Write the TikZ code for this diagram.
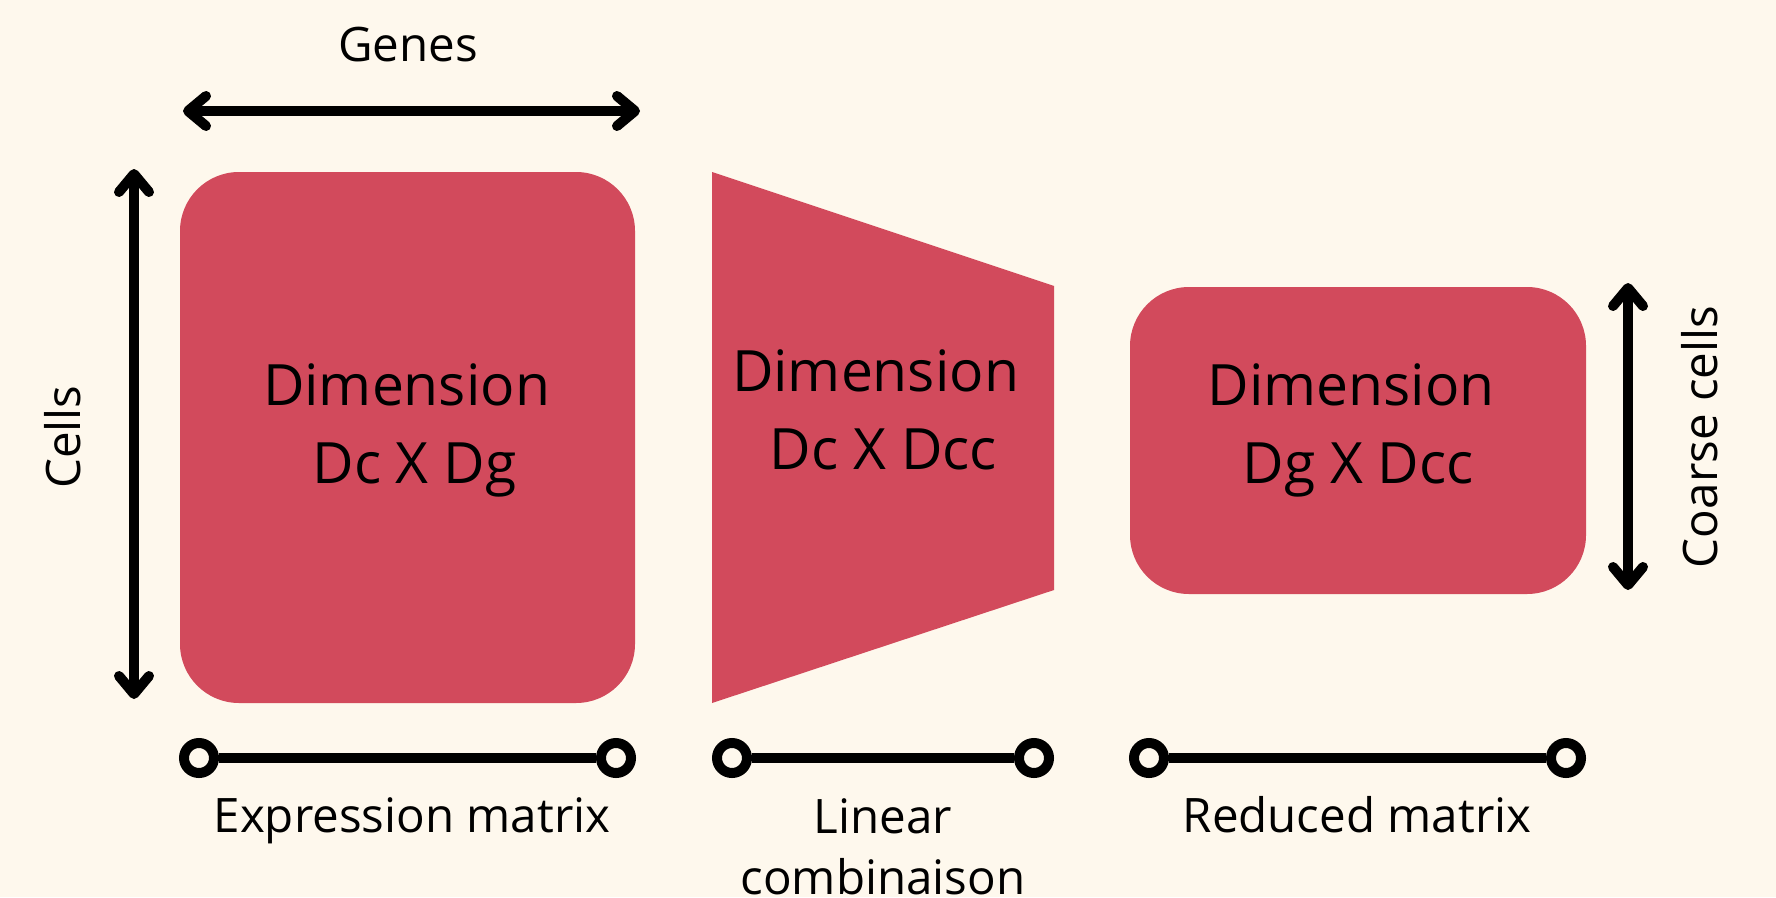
\documentclass[tikz,border=0pt]{standalone}
\usepackage{fontspec}
\setmainfont{Open Sans}
\usetikzlibrary{arrows.meta}
\definecolor{bgcol}{HTML}{FEF8ED}
\definecolor{matred}{HTML}{D24A5C}
\tikzset{
  matbox/.style={fill=matred, draw=none, rounded corners=59pt, inner sep=0pt},
  dimtext/.style={anchor=base, inner sep=0pt, font=\fontsize{57}{70}\selectfont},
  labtext/.style={anchor=base, inner sep=0pt, font=\fontsize{47.5}{60}\selectfont},
  dimarrow/.style={line width=10pt, {Straight Barb[length=18pt,width=30pt,round]}-{Straight Barb[length=18pt,width=30pt,round]}},
  endring/.style={circle, draw, line width=10pt, fill=bgcol, minimum size=30pt, inner sep=0pt},
  barline/.style={line width=10pt}
}
\begin{document}
\begin{tikzpicture}[x=1pt,y=-1pt]
\fill[bgcol] (0,0) rectangle (1776,897);
\useasboundingbox (0,0) rectangle (1776,897);

% matrices
\node[matbox, minimum width=455pt, minimum height=531pt] (expr) at (407.5,437.5) {};
\fill[matred] (712,172) -- (1054,286) -- (1054,590) -- (712,703) -- cycle;
\coordinate (lin) at (883,437.5);
\node[matbox, minimum width=456pt, minimum height=307pt] (red) at (1358,440.5) {};

% texts inside
\node[dimtext] (d1a) at (406.5,405) {Dimension};
\node[dimtext] (d1b) at (414.5,483) {Dc X Dg};
\node[dimtext] (d2a) at (875.5,391) {Dimension};
\node[dimtext] (d2b) at (883.5,469) {Dc X Dcc};
\node[dimtext] (d3a) at (1351,405) {Dimension};
\node[dimtext] (d3b) at (1358,483) {Dg X Dcc};

% dimension arrows
\coordinate (gl) at (183,111);
\coordinate (gr) at (640,111);
\draw[dimarrow] (gl) -- (gr);
\node[labtext] (genes) at (408,61) {Genes};
\coordinate (ct) at (134,169);
\coordinate (cb) at (134,699);
\draw[dimarrow] (ct) -- (cb);
\node[labtext, rotate=90] (cells) at (80,437) {Cells};
\coordinate (kt) at (1628,283);
\coordinate (kb) at (1628,590);
\draw[dimarrow] (kt) -- (kb);
\node[labtext, rotate=90] (coarse) at (1717,437) {Coarse cells};

% bottom bars
\node[endring] (e1) at (199,758) {};
\node[endring] (e2) at (616,758) {};
\draw[barline] (e1) -- (e2);
\node[endring] (l1) at (732,758) {};
\node[endring] (l2) at (1034,758) {};
\draw[barline] (l1) -- (l2);
\node[endring] (r1) at (1149,758) {};
\node[endring] (r2) at (1566,758) {};
\draw[barline] (r1) -- (r2);

\node[labtext] (lexpr) at (412,832) {Expression matrix};
\node[labtext] (llin1) at (883,833) {Linear};
\node[labtext] (llin2) at (883,894) {combinaison};
\node[labtext] (lred) at (1357,832) {Reduced matrix};
\end{tikzpicture}
\end{document}
